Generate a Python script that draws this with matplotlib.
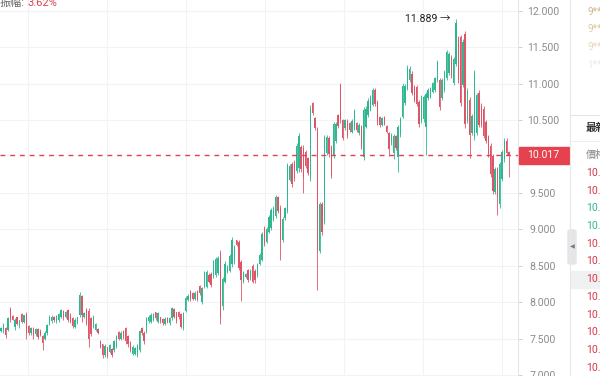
import matplotlib.pyplot as plt
import matplotlib.transforms as mtransforms
from matplotlib.patches import Rectangle, FancyBboxPatch
import numpy as np

# candle data, left to right
opens = [
    7.60, 7.60, 7.65, 7.62, 7.90, 7.81, 7.66, 7.79, 7.68, 7.84,
    7.73, 7.84, 7.67, 7.57, 7.64, 7.56, 7.63, 7.61, 7.54, 7.50,
    7.57, 7.71, 7.74, 7.80, 7.74, 7.76, 7.80, 7.88, 7.80, 7.89,
    7.83, 7.78, 7.66, 7.72, 7.82, 8.08, 7.80, 7.90, 7.88, 7.78,
    7.66, 7.62, 7.63, 7.47, 7.42, 7.27, 7.38, 7.32, 7.36, 7.34,
    7.40, 7.59, 7.50, 7.60, 7.64, 7.53, 7.45, 7.29, 7.29, 7.27,
    7.35, 7.65, 7.58, 7.60, 7.74, 7.73, 7.76, 7.86, 7.73, 7.79,
    7.77, 7.70, 7.78, 7.71, 7.78, 7.91, 7.86, 7.86, 7.84, 7.64,
    7.88, 8.03, 8.15, 8.12, 8.05, 8.15, 8.22, 8.00, 8.22, 8.21,
    8.38, 8.39, 8.35, 8.37, 8.40, 8.68, 7.95, 8.28, 8.42, 8.43,
    8.52, 8.56, 8.85, 8.83, 8.55, 8.28, 8.34, 8.44, 8.32, 8.50,
    8.43, 8.37, 8.53, 8.58, 9.02, 8.83, 8.97, 9.02, 9.13, 9.18,
    9.44, 9.30, 8.86, 9.15, 9.25, 9.68, 9.90, 9.92, 9.80,
    9.85, 10.13, 10.12, 10.06, 9.98, 9.70, 10.73, 10.53, 10.38,
    8.70, 9.35, 9.10, 10.05, 10.25, 10.13, 10.01, 10.21, 10.57, 10.98,
    10.50, 10.39, 10.49, 10.46, 10.34, 10.38, 10.46, 10.32,
    10.41, 10.00, 10.41, 10.57, 10.64, 10.71, 10.92, 10.75,
    10.54, 10.44, 10.54, 10.42, 10.32, 10.18, 10.05, 10.28,
    10.00, 10.30, 10.55, 10.73, 10.93, 11.05, 11.14, 10.96, 10.95,
    10.75, 10.49, 10.51, 10.40, 10.80, 10.82, 10.89, 10.91, 11.05,
    11.05, 10.80, 10.91, 11.08, 11.15, 11.37, 11.01, 11.27, 11.62, 11.64,
    10.99, 11.68, 10.49, 10.78, 10.32, 10.27, 10.33, 10.88, 10.70, 10.66,
    10.47, 10.28, 10.15, 10.01, 9.52, 9.83, 9.35, 9.69, 9.96, 10.22, 10.06,
]
highs = [
    7.66, 7.72, 7.66, 7.80, 7.94, 7.82, 7.78, 7.80, 7.76, 7.85,
    7.83, 7.86, 7.69, 7.66, 7.66, 7.65, 7.65, 7.63, 7.55, 7.60,
    7.70, 7.83, 7.82, 7.81, 7.83, 7.85, 7.91, 7.89, 7.88, 7.91,
    7.85, 7.80, 7.78, 7.80, 8.14, 8.10, 7.87, 7.92, 7.92, 7.80,
    7.82, 7.72, 7.64, 7.48, 7.43, 7.42, 7.39, 7.43, 7.37, 7.48,
    7.55, 7.60, 7.60, 7.62, 7.66, 7.55, 7.46, 7.41, 7.39, 7.43,
    7.62, 7.66, 7.60, 7.80, 7.82, 7.85, 7.85, 7.87, 7.87, 7.80,
    7.78, 7.79, 7.79, 7.80, 7.94, 7.92, 7.87, 7.88, 7.85, 7.87,
    8.08, 8.11, 8.17, 8.14, 8.15, 8.17, 8.24, 8.21, 8.43, 8.44,
    8.40, 8.41, 8.58, 8.62, 8.63, 8.71, 8.35, 8.56, 8.51, 8.66,
    8.89, 8.79, 8.86, 8.85, 8.58, 8.43, 8.40, 8.46, 8.45, 8.52,
    8.45, 8.54, 8.67, 8.97, 9.04, 9.03, 9.20, 9.29, 9.32, 9.47,
    9.46, 9.33, 9.17, 9.31, 9.91, 9.90, 9.93, 9.95, 10.18,
    10.32, 10.16, 10.16, 10.09, 10.00, 10.71, 10.75, 10.55, 10.41,
    9.38, 9.38, 10.30, 10.30, 10.28, 10.16, 10.48, 10.48, 10.59, 11.01,
    10.52, 10.52, 10.51, 10.48, 10.51, 10.66, 10.48, 10.46,
    10.43, 10.68, 10.69, 10.80, 10.85, 10.94, 10.94, 10.78,
    10.56, 10.55, 10.56, 10.43, 10.34, 10.32, 10.31, 10.30,
    10.43, 10.55, 11.01, 11.00, 11.26, 11.24, 11.17, 10.98, 10.98,
    10.78, 10.85, 10.85, 10.89, 10.94, 10.96, 11.03, 11.10, 11.33,
    11.08, 11.08, 11.19, 11.47, 11.44, 11.40, 11.37, 11.889, 11.65, 11.67,
    11.62, 11.72, 10.94, 10.82, 10.59, 11.19, 10.87, 10.92, 10.73, 10.69,
    10.50, 10.30, 10.18, 10.04, 9.86, 9.86, 9.93, 10.09, 10.25, 10.25, 10.07,
]
lows = [
    7.59, 7.57, 7.51, 7.60, 7.73, 7.75, 7.62, 7.69, 7.64, 7.71,
    7.71, 7.50, 7.55, 7.55, 7.50, 7.54, 7.50, 7.53, 7.34, 7.48,
    7.55, 7.69, 7.72, 7.73, 7.71, 7.73, 7.78, 7.76, 7.78, 7.73,
    7.71, 7.65, 7.64, 7.70, 7.80, 7.73, 7.78, 7.69, 7.39, 7.53,
    7.64, 7.60, 7.56, 7.37, 7.23, 7.25, 7.24, 7.30, 7.25, 7.32,
    7.37, 7.48, 7.48, 7.50, 7.43, 7.39, 7.32, 7.27, 7.27, 7.25,
    7.32, 7.55, 7.43, 7.57, 7.72, 7.71, 7.74, 7.76, 7.71, 7.71,
    7.69, 7.68, 7.71, 7.69, 7.76, 7.78, 7.72, 7.77, 7.64, 7.62,
    7.87, 8.02, 8.01, 8.03, 8.03, 8.01, 8.10, 7.98, 8.20, 8.19,
    8.26, 8.21, 8.33, 8.35, 8.37, 7.70, 7.89, 8.26, 8.40, 8.41,
    8.49, 8.53, 8.77, 8.44, 8.01, 8.26, 8.33, 8.28, 8.30, 8.26,
    8.27, 8.35, 8.51, 8.56, 8.77, 8.81, 8.95, 8.99, 9.11, 9.15,
    9.22, 8.58, 8.83, 9.13, 9.22, 9.66, 9.58, 9.66, 9.77,
    9.79, 9.79, 9.50, 9.84, 9.75, 9.66, 10.57, 10.36, 8.17,
    8.67, 8.92, 9.08, 10.02, 10.00, 9.70, 9.98, 10.18, 10.39, 10.46,
    10.23, 10.37, 10.25, 10.34, 10.32, 10.36, 10.34, 10.30,
    10.11, 9.95, 10.39, 10.55, 10.62, 10.69, 10.69, 10.43,
    10.41, 10.42, 10.43, 10.32, 10.01, 10.16, 9.96, 10.09,
    9.79, 10.27, 10.53, 10.71, 10.91, 11.03, 10.85, 10.75, 10.69,
    10.41, 10.46, 10.48, 10.02, 10.78, 10.80, 10.87, 10.89, 11.03,
    10.64, 10.78, 10.89, 11.05, 11.12, 11.08, 10.98, 11.24, 11.01, 10.69,
    10.96, 10.39, 10.46, 9.98, 10.30, 10.23, 10.30, 10.41, 10.41, 10.25,
    10.18, 10.00, 9.72, 9.49, 9.49, 9.20, 9.29, 9.66, 9.93, 10.02, 9.72,
]
closes = [
    7.65, 7.70, 7.55, 7.78, 7.76, 7.76, 7.76, 7.70, 7.75, 7.73,
    7.82, 7.58, 7.57, 7.64, 7.54, 7.63, 7.52, 7.55, 7.44, 7.58,
    7.68, 7.80, 7.80, 7.75, 7.81, 7.84, 7.89, 7.79, 7.87, 7.76,
    7.73, 7.67, 7.76, 7.79, 8.10, 7.82, 7.85, 7.72, 7.50, 7.56,
    7.79, 7.70, 7.58, 7.39, 7.27, 7.40, 7.26, 7.41, 7.27, 7.46,
    7.53, 7.50, 7.58, 7.52, 7.47, 7.42, 7.34, 7.39, 7.37, 7.41,
    7.60, 7.57, 7.46, 7.78, 7.80, 7.83, 7.84, 7.78, 7.85, 7.73,
    7.71, 7.77, 7.73, 7.78, 7.92, 7.80, 7.74, 7.79, 7.66, 7.85,
    8.06, 8.09, 8.04, 8.05, 8.13, 8.03, 8.12, 8.19, 8.41, 8.42,
    8.28, 8.24, 8.56, 8.60, 8.61, 7.80, 8.32, 8.53, 8.49, 8.64,
    8.86, 8.76, 8.79, 8.47, 8.30, 8.41, 8.39, 8.30, 8.43, 8.28,
    8.30, 8.52, 8.65, 8.94, 8.80, 9.00, 9.17, 9.26, 9.30, 9.44,
    9.25, 8.85, 9.14, 9.29, 9.88, 9.87, 9.62, 9.70, 10.15,
    10.28, 9.83, 9.70, 9.87, 9.78, 10.66, 10.60, 10.39, 8.70,
    9.35, 8.96, 10.26, 10.27, 10.03, 9.74, 10.45, 10.45, 10.42, 10.50,
    10.26, 10.50, 10.28, 10.36, 10.49, 10.63, 10.36, 10.44,
    10.14, 10.64, 10.66, 10.77, 10.82, 10.91, 10.72, 10.46,
    10.43, 10.53, 10.45, 10.34, 10.10, 10.30, 10.28, 10.12,
    10.40, 10.52, 10.97, 10.97, 11.22, 11.21, 10.88, 10.78, 10.72,
    10.45, 10.82, 10.82, 10.86, 10.92, 10.94, 11.01, 11.08, 11.30,
    10.68, 11.05, 11.16, 11.44, 11.41, 11.11, 11.34, 11.84, 11.05, 10.74,
    11.58, 10.45, 10.90, 10.30, 10.56, 11.15, 10.84, 10.44, 10.44, 10.28,
    10.21, 10.03, 9.76, 9.53, 9.83, 9.45, 9.90, 10.06, 10.22, 10.05, 10.017,
]

last_price = 10.017
price_ticks = [7.0, 7.5, 8.0, 8.5, 9.0, 9.5, 10.5, 11.0, 11.5, 12.0]
amp_label = '振幅:'
amp_value = '3.62%'

# right side panel (cut off by the screenshot)
side_names = ['9**', '9**', '9**', '1**']
side_name_colors = ['#d2b58a', '#dcc59f', '#e6d6ba', '#f1e9dc']
side_headers = ['最新價', '價格']
side_rows = ['10.02', '10.02', '10.01', '10.01', '10.02', '10.02',
             '10.02', '10.02', '10.02', '10.02', '10.02', '10.02']
side_rows_up = [False, False, True, True, False, False,
                False, False, False, False, False, False]

UP = '#2fb890'
DOWN = '#e05467'
GRID = '#f1f4f6'
W, H = 600, 376


def px(x, y):
    return x / W, 1 - y / H


def draw_candles(ax):
    o = np.array(opens)
    c = np.array(closes)
    x = np.arange(len(c))
    colors = np.where(c >= o, UP, DOWN)
    ax.vlines(x, lows, highs, colors=colors, linewidth=0.6)
    body = np.maximum(np.abs(c - o), 0.01)
    ax.bar(x, body, bottom=np.minimum(o, c), width=0.6, color=colors, linewidth=0)
    return x


def main():
    plt.rcParams['font.family'] = ['Roboto', 'Noto Sans CJK TC', 'DejaVu Sans']
    fig = plt.figure(figsize=(W / 100, H / 100), dpi=100)
    ax = fig.add_axes([0, 0, 518 / W, 1])

    x = draw_candles(ax)
    ax.set_xlim(-0.43, len(x) + 2.9)
    ax.set_ylim(6.986, 12.151)

    # faint grid
    ax.set_xticks([11.7, 45.9, 80.1, 114.3, 148.5, 182.8, 217])
    ax.set_yticks(price_ticks)
    ax.grid(True, color=GRID, linewidth=0.8)
    ax.set_axisbelow(True)
    ax.tick_params(axis='x', length=0, labelbottom=False)
    ax.yaxis.tick_right()
    ax.set_yticklabels([f'{v:.3f}' for v in price_ticks])
    ax.tick_params(axis='y', length=3, width=0.6, color='#c8c8c8',
                   labelcolor='#8c8c8c', labelsize=7.6, pad=15)
    for lbl in ax.get_yticklabels():
        lbl.set_horizontalalignment('center')
    for side in ['top', 'left', 'bottom']:
        ax.spines[side].set_visible(False)
    ax.spines['right'].set_color('#e4e6e8')
    ax.spines['right'].set_linewidth(0.8)

    # last price line and tag
    ax.axhline(last_price, color='#e0404f', linewidth=1.0, linestyle=(0, (3.5, 3.5)))
    trans = mtransforms.blended_transform_factory(fig.transFigure, ax.transData)
    ax.add_patch(Rectangle((519 / W, last_price - 0.117), 50 / W, 0.234,
                           transform=trans, color='#e5414e', clip_on=False, zorder=5))
    ax.text(543 / W, last_price, f'{last_price:.3f}', transform=trans, color='white',
            fontsize=7.6, ha='center', va='center', zorder=6, clip_on=False)

    # high marker
    i_peak = int(np.argmax(highs))
    ax.annotate(f'{highs[i_peak]:.3f} →', xy=(i_peak, highs[i_peak]), xytext=(-4, 0),
                textcoords='offset points', ha='right', va='center',
                fontsize=7.6, color='#222222')

    # amplitude text at the top, half cut off
    fig.text(*px(0, 6), amp_label, color='#666666', fontsize=8, va='baseline')
    fig.text(*px(27, 6), amp_value, color='#e0404f', fontsize=8, va='baseline')

    # side panel
    fig.add_artist(plt.Line2D([570 / W, 570 / W], [0, 1], color='#e8e8e8', linewidth=0.8))
    for k, (name, col) in enumerate(zip(side_names, side_name_colors)):
        fig.text(*px(587, 12 + 17.5 * k), name, color=col, fontsize=7.2, va='center')
    fig.add_artist(plt.Line2D([571 / W, 1], [1 - 115 / H] * 2, color='#e6e6e6', linewidth=0.8))
    fig.text(*px(586, 128), side_headers[0], color='#333333', fontsize=7.6,
             va='center', fontweight='bold')
    fig.add_artist(plt.Line2D([571 / W, 1], [1 - 141 / H] * 2, color='#eeeeee', linewidth=0.8))
    fig.text(*px(586, 155), side_headers[1], color='#888888', fontsize=7.4, va='center')
    for k, (val, up) in enumerate(zip(side_rows, side_rows_up)):
        y = 173 + 17.7 * k
        if k == 6:
            fig.add_artist(Rectangle(px(571, y + 8.5), 29 / W, 17 / H,
                                     transform=fig.transFigure, color='#f0f1f3', zorder=0))
        fig.text(*px(586, y), val, color=UP if up else '#d9364a', fontsize=7.6, va='center')

    # collapse handle
    fig.add_artist(FancyBboxPatch(px(568, 264), 8 / W, 34 / H,
                                  boxstyle='round,pad=0,rounding_size=0.004',
                                  transform=fig.transFigure, color='#e4e5e7'))
    fig.text(*px(572, 247), '◀', color='#7a7a7a', fontsize=4.5, ha='center', va='center',
             family=['DejaVu Sans'])

    fig.savefig('out.png', dpi=100)
    plt.close(fig)


if __name__ == "__main__":
    main()
